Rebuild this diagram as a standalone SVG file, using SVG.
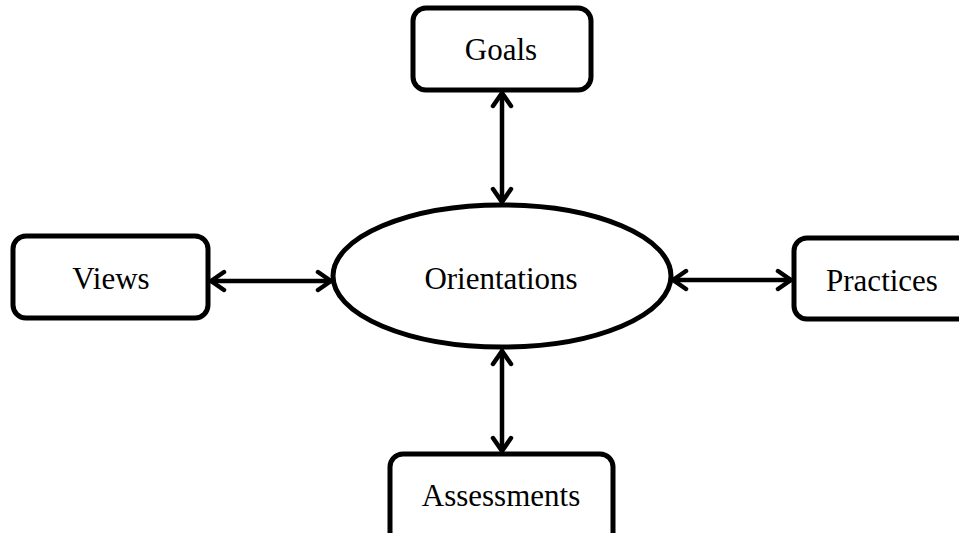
<svg xmlns="http://www.w3.org/2000/svg" width="959" height="533" viewBox="0 0 959 533">
<style>
.box{fill:#fff;stroke:#000;stroke-width:5}
.lbl{font-family:"Liberation Serif","Times New Roman",serif;font-size:31px;fill:#000;text-anchor:middle}
.con{fill:none;stroke:#000;stroke-width:4.5;stroke-linecap:round;stroke-linejoin:round}
</style>
<defs>
<marker id="ah" viewBox="0 0 24 24" refX="19" refY="12" markerWidth="24" markerHeight="24" markerUnits="userSpaceOnUse" orient="auto-start-reverse">
<path d="M6,3 L19,12 L6,21" fill="none" stroke="#000" stroke-width="4.5" stroke-linecap="round" stroke-linejoin="round"/>
</marker>
</defs>
<rect width="959" height="533" fill="#fff"/>
<g id="connectors">
<line class="con" x1="502" y1="93" x2="502" y2="202" marker-start="url(#ah)" marker-end="url(#ah)"/>
<line class="con" x1="211" y1="281" x2="331" y2="281" marker-start="url(#ah)" marker-end="url(#ah)"/>
<line class="con" x1="673" y1="280" x2="791" y2="280" marker-start="url(#ah)" marker-end="url(#ah)"/>
<line class="con" x1="502" y1="351" x2="502" y2="451" marker-start="url(#ah)" marker-end="url(#ah)"/>
</g>
<g id="orientations">
<ellipse class="box" cx="502" cy="276" rx="169" ry="71"/>
<text class="lbl" x="501" y="289">Orientations</text>
</g>
<g id="goals">
<rect class="box" x="413" y="8" width="178" height="82" rx="13"/>
<text class="lbl" x="501" y="60">Goals</text>
</g>
<g id="views">
<rect class="box" x="13" y="236" width="195" height="82" rx="13"/>
<text class="lbl" x="111" y="289">Views</text>
</g>
<g id="practices">
<rect class="box" x="794" y="238" width="190" height="81" rx="13"/>
<text class="lbl" x="882" y="291">Practices</text>
</g>
<g id="assessments">
<rect class="box" x="390" y="454" width="223" height="100" rx="13"/>
<text class="lbl" x="501" y="506">Assessments</text>
</g>
</svg>
